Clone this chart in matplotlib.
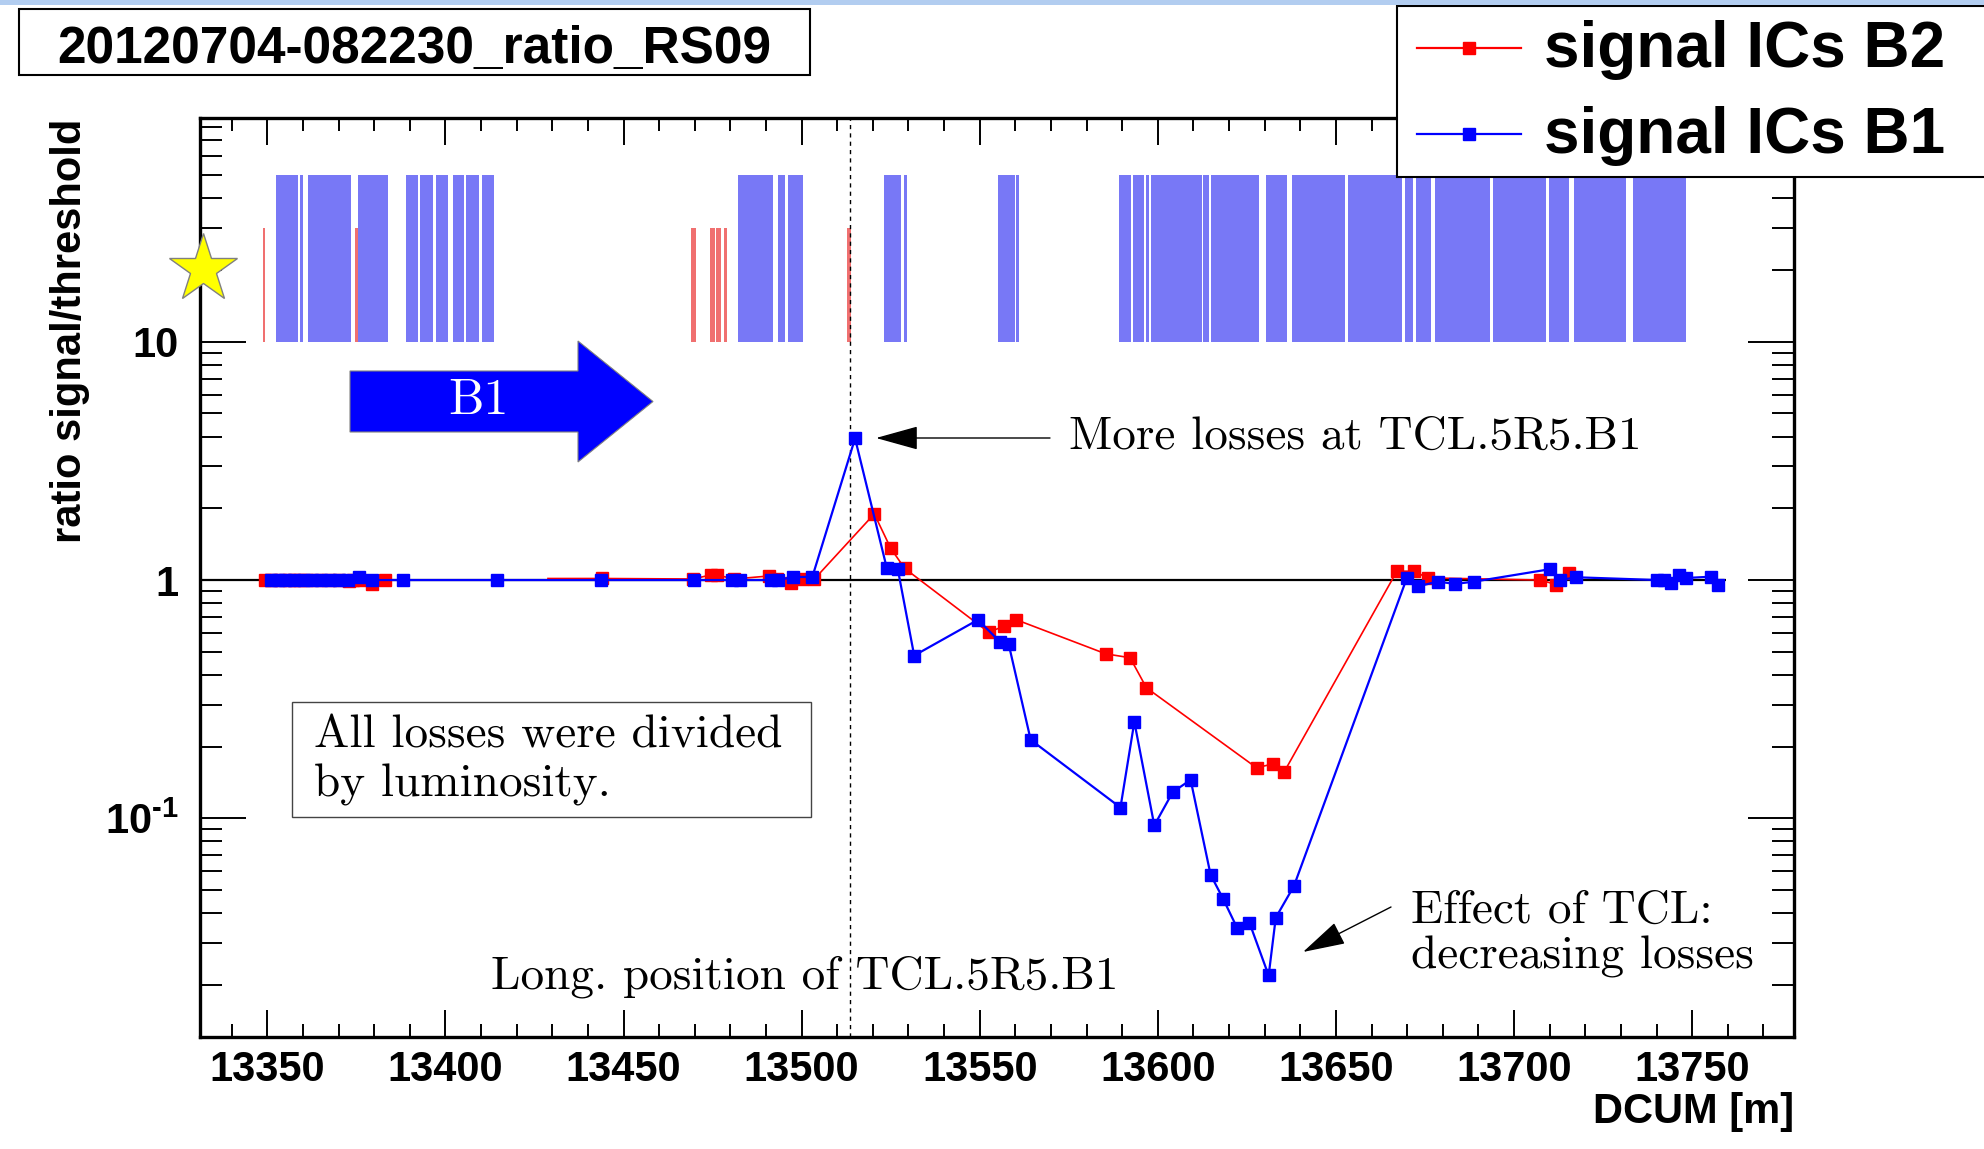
import matplotlib
matplotlib.use('Agg')
import matplotlib.pyplot as plt
import numpy as np
from matplotlib.patches import Rectangle, Polygon, FancyArrowPatch
from matplotlib.lines import Line2D
from matplotlib.ticker import LogLocator, NullFormatter, MultipleLocator, FormatStrFormatter

plt.rcParams['font.family'] = ['Liberation Sans', 'DejaVu Sans']
plt.rcParams['mathtext.fontset'] = 'custom'
plt.rcParams['mathtext.rm'] = 'Liberation Sans:bold'
plt.rcParams['mathtext.bf'] = 'Liberation Sans:bold'
plt.rcParams['mathtext.default'] = 'bf'

# ---- data (DCUM in m, ratio signal/threshold) ----
b1_x = [13351.0, 13353.0, 13355.0, 13357.4, 13360.3, 13362.5, 13365.0, 13367.5,
        13370.0, 13372.7, 13375.8, 13379.5, 13388.2, 13414.6, 13443.7, 13469.7,
        13480.5, 13482.7, 13491.5, 13493.5, 13497.7, 13503.0, 13515.0, 13523.9,
        13527.0, 13531.6, 13549.5, 13555.8, 13558.1, 13564.3, 13589.5, 13593.4,
        13599.0, 13604.2, 13609.2, 13614.8, 13618.3, 13622.2, 13625.7, 13631.1,
        13633.1, 13638.2, 13669.9, 13672.9, 13678.6, 13683.4, 13688.8, 13710.0,
        13712.9, 13717.5, 13740.2, 13742.2, 13744.0, 13746.4, 13748.3, 13755.4,
        13757.3]
b1_y = [1.0, 1.0, 1.0, 1.0, 1.0, 1.0, 1.0, 1.0,
        1.0, 1.0, 1.03, 1.0, 1.0, 1.0, 1.0, 1.0,
        1.0, 1.0, 1.0, 1.0, 1.03, 1.03, 3.93, 1.124,
        1.11, 0.482, 0.681, 0.548, 0.540, 0.2135, 0.111, 0.254,
        0.0934, 0.129, 0.145, 0.058, 0.046, 0.0348, 0.0365, 0.0219,
        0.0383, 0.052, 1.02, 0.94, 0.985, 0.963, 0.985, 1.11,
        1.0, 1.027, 1.0, 1.0, 0.97, 1.054, 1.02, 1.033,
        0.957]

b2_x = [13349.5, 13351.0, 13353.5, 13356.0, 13357.6, 13359.2, 13361.0, 13364.0,
        13367.0, 13370.0, 13373.0, 13374.0, 13376.0, 13379.3, 13383.1,
        13428.8, 13443.9, 13469.4, 13474.5, 13476.2, 13481.1, 13490.8, 13493.0,
        13497.0, 13500.1, 13503.6, 13520.4, 13525.0, 13528.9, 13552.5, 13556.8,
        13560.3, 13585.4, 13592.2, 13596.8, 13627.7, 13632.2, 13635.5, 13667.1,
        13671.9, 13675.7, 13707.3, 13711.9, 13715.3]
b2_y = [1.0, 1.0, 1.0, 1.0, 1.0, 1.0, 1.0, 1.0,
        1.0, 1.0, 0.99, 1.0, 1.0, 0.96, 1.0,
        1.015, 1.015, 1.01, 1.05, 1.05, 1.01, 1.04, 1.01,
        0.97, 1.01, 1.01, 1.895, 1.36, 1.12, 0.604, 0.64,
        0.681, 0.490, 0.472, 0.353, 0.163, 0.169, 0.157, 1.089,
        1.089, 1.021, 1.0, 0.957, 1.068]
b2_gap = 15  # no connection between the two red groups

# monitor positions shown as bars on top (start, end)
b1_bar_start = [13352.5, 13359.3, 13361.5, 13375.5, 13389.0, 13393.0, 13397.3, 13402.0,
                13405.8, 13410.3, 13482.2, 13493.5, 13496.3, 13523.2, 13528.8, 13555.1,
                13560.1, 13589.0, 13593.1, 13596.6, 13598.1, 13612.8, 13614.8, 13630.4,
                13637.7, 13653.4, 13669.5, 13672.6, 13677.9, 13694.0, 13709.9, 13716.8,
                13733.4]
b1_bar_end = [13358.7, 13360.1, 13373.5, 13384.0, 13392.3, 13396.5, 13400.7, 13405.3,
              13409.3, 13413.7, 13491.9, 13495.3, 13500.5, 13528.0, 13529.6, 13559.8,
              13561.0, 13592.5, 13596.2, 13597.5, 13612.3, 13614.4, 13628.3, 13636.2,
              13652.5, 13668.5, 13671.6, 13676.6, 13693.2, 13709.0, 13715.3, 13731.3,
              13748.2]
b2_bar_start = [13348.7, 13374.5, 13469.0, 13474.4, 13475.9, 13478.2, 13512.6]
b2_bar_end = [13349.3, 13375.5, 13470.3, 13475.6, 13477.3, 13479.0, 13513.8]
bar_base = 10
b1_bar_top = 50
b2_bar_top = 30

tcl_pos = 13513.6
ref_end = 13759.6

W, H = 1984, 1149


def fx(x):
    return x / W


def fy(y):
    return 1 - y / H


fig = plt.figure(figsize=(W / 100, H / 100), dpi=100)
ax = fig.add_axes([0.1006, 0.0972, 0.9041 - 0.1006, 0.8970 - 0.0972])

ax.bar(b1_bar_start, b1_bar_top - bar_base, width=np.subtract(b1_bar_end, b1_bar_start),
       bottom=bar_base, align='edge', color='#7878f6', linewidth=0, zorder=1)
ax.bar(b2_bar_start, b2_bar_top - bar_base, width=np.subtract(b2_bar_end, b2_bar_start),
       bottom=bar_base, align='edge', color='#f07070', linewidth=0, zorder=1)

ax.hlines(1, 13331, ref_end, color='black', lw=1.6, zorder=2)
ax.axvline(tcl_pos, color='black', lw=1.0, ls=(0, (3, 3)), zorder=2)

ax.plot(b2_x[:b2_gap], b2_y[:b2_gap], color='#ff0000', lw=1.2, marker='s', ms=9,
        mec='#ff0000', mfc='#ff0000', zorder=3)
ax.plot(b2_x[b2_gap:], b2_y[b2_gap:], color='#ff0000', lw=1.2, marker='s', ms=9,
        mec='#ff0000', mfc='#ff0000', markevery=list(range(1, len(b2_x) - b2_gap)), zorder=3)
ax.plot(b1_x, b1_y, color='#0000ff', lw=1.6, marker='s', ms=9,
        mec='#0000ff', mfc='#0000ff', zorder=4)

ax.set_xlim(13331, 13778.5)
ax.set_yscale('log')
ax.set_ylim(0.01205, 86.6)
ax.xaxis.set_major_locator(MultipleLocator(50))
ax.xaxis.set_minor_locator(MultipleLocator(10))
ax.xaxis.set_major_formatter(FormatStrFormatter('%d'))
ax.set_yticks([0.1, 1, 10], labels=[r'$10^{\text{-}1}$', '1', '10'])
ax.yaxis.set_minor_locator(LogLocator(base=10, subs=np.arange(2, 10)))
ax.yaxis.set_minor_formatter(NullFormatter())
ax.tick_params(axis='both', which='both', direction='in', top=True, right=True)
ax.tick_params(axis='x', which='major', length=19.4, width=1.4, labelsize=30, pad=9)
ax.tick_params(axis='x', which='minor', length=9.4, width=1.4)
ax.tick_params(axis='y', which='major', length=33, width=1.4, labelsize=30, pad=15)
ax.tick_params(axis='y', which='minor', length=16, width=1.4)
for lbl in ax.get_xticklabels() + ax.get_yticklabels():
    lbl.set_fontweight('bold')
for sp in ax.spines.values():
    sp.set_linewidth(2.4)

fig.text(fx(1794), fy(1123), 'DCUM [m]', ha='right', va='baseline',
         fontsize=30, fontweight='bold')
fig.text(fx(70), fy(119), 'ratio signal/threshold', rotation=90, ha='center', va='top',
         fontsize=30, fontweight='bold')

# light band at top of the slide
fig.add_artist(Rectangle((0, fy(5)), 1, 5 / H, transform=fig.transFigure,
                         facecolor='#b2cdf0', edgecolor='none', zorder=6))

# title box
fig.add_artist(Rectangle((fx(19), fy(75)), fx(791), 66 / H, transform=fig.transFigure,
                         facecolor='white', edgecolor='black', lw=1.5, zorder=5))
fig.text(fx(414), fy(63), '20120704-082230_ratio_RS09', ha='center', va='baseline',
         fontsize=37, fontweight='bold', zorder=6)

# legend
fig.add_artist(Rectangle((fx(1397), fy(177)), fx(620), 171 / H, transform=fig.transFigure,
                         facecolor='white', edgecolor='black', lw=1.5, zorder=5))
for row_y, col, lab in [(47.5, '#ff0000', 'signal ICs B2'), (134, '#0000ff', 'signal ICs B1')]:
    fig.add_artist(Line2D([fx(1417), fx(1521)], [fy(row_y), fy(row_y)], color=col, lw=1.6,
                          transform=fig.transFigure, zorder=6))
    fig.add_artist(Line2D([fx(1469)], [fy(row_y)], marker='s', ms=9, color=col,
                          transform=fig.transFigure, zorder=6))
    fig.text(fx(1544), fy(row_y + 19), lab, ha='left', va='baseline', fontsize=46,
             fontweight='bold', zorder=6)

# annotations
serif = ['cmr10', 'DejaVu Serif']
fig.text(fx(1069), fy(449), 'More losses at TCL.5R5.B1', fontsize=34, family=serif,
         ha='left', va='baseline')
fig.text(fx(491), fy(988), 'Long. position of TCL.5R5.B1', fontsize=34, family=serif,
         ha='left', va='baseline')
fig.text(fx(1411), fy(923), 'Effect of TCL:', fontsize=34, family=serif,
         ha='left', va='baseline')
fig.text(fx(1411), fy(969), 'decreasing losses', fontsize=34, family=serif,
         ha='left', va='baseline')

fig.add_artist(Rectangle((fx(292), fy(817)), fx(519), 115 / H, transform=fig.transFigure,
                         facecolor='white', edgecolor='#444444', lw=1.0, zorder=5))
fig.text(fx(314), fy(748), 'All losses were divided', fontsize=34, family=serif,
         ha='left', va='baseline', zorder=6)
fig.text(fx(314), fy(797), 'by luminosity.', fontsize=34, family=serif,
         ha='left', va='baseline', zorder=6)

arrow_style = '-|>,head_length=0.9,head_width=0.25'
fig.add_artist(FancyArrowPatch((fx(1050), fy(438)), (fx(876), fy(438)),
                               transform=fig.transFigure, arrowstyle=arrow_style,
                               mutation_scale=30, lw=1.0, color='black',
                               shrinkA=0, shrinkB=0, zorder=6))
fig.add_artist(FancyArrowPatch((fx(1391), fy(907)), (fx(1303), fy(952)),
                               transform=fig.transFigure, arrowstyle=arrow_style,
                               mutation_scale=30, lw=1.0, color='black',
                               shrinkA=0, shrinkB=0, zorder=6))

# beam direction arrow
arrow_px = [(350, 371), (578, 371), (578, 341), (653, 401.5), (578, 462), (578, 432), (350, 432)]
fig.add_artist(Polygon([(fx(a), fy(b)) for a, b in arrow_px], closed=True,
                       transform=fig.transFigure, facecolor='#0000ff',
                       edgecolor='#808080', lw=0.8, zorder=6))
fig.text(fx(479), fy(414), 'B1', color='white', fontsize=36, family=serif,
         ha='center', va='baseline', zorder=7)

# star marker
fig.add_artist(Line2D([fx(203)], [fy(269)], marker='*', ms=52, mfc='#ffff00',
                      mec='#808080', mew=1.0, transform=fig.transFigure, zorder=6))

fig.savefig('out.png', dpi=100)
